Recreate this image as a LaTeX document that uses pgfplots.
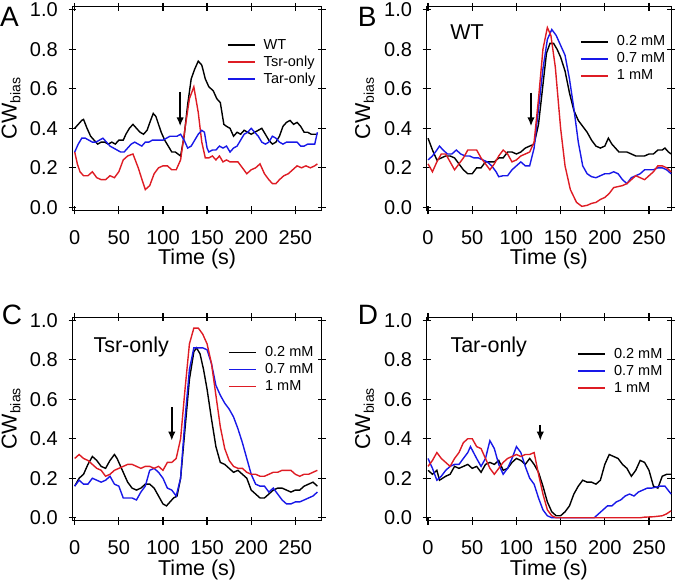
\documentclass[border=0pt]{standalone}
\usepackage{pgfplots}
\pgfplotsset{compat=1.18}
\usepackage{fontspec}
\setmainfont{Liberation Sans}
\usetikzlibrary{arrows.meta}
\definecolor{cred}{RGB}{222,28,36}
\definecolor{cblue}{RGB}{24,24,232}
\tikzset{
  lettr/.style={anchor=base west, inner sep=0pt, font=\fontsize{28}{28}\selectfont},
  inlab/.style={anchor=base west, inner sep=0pt, font=\fontsize{21.5}{22}\selectfont},
}
\pgfplotsset{
  panel/.style={
    scale only axis, height=203.5pt,
    ymin=-0.015, ymax=1.015,
    ytick={0,0.2,0.4,0.6,0.8,1.0},
    xtick={0,50,100,150,200,250},
    tick align=center, major tick length=8pt,
    every tick/.style={line width=1.2pt, black},
    axis line style={line width=1.1pt},
    /pgf/number format/assume math mode=true,
    yticklabel style={/pgf/number format/fixed, /pgf/number format/fixed zerofill, /pgf/number format/precision=1,
      anchor=east, inner sep=0pt, xshift=-10.5pt, font=\fontsize{20}{20}\selectfont},
    xticklabel style={anchor=base, inner sep=0pt, yshift=-30pt, font=\fontsize{20}{20}\selectfont},
    clip=false,
    xlabel={Time (s)},
    xlabel style={at={(axis description cs:0.5,0)}, anchor=base, yshift=-54.7pt, inner sep=0pt, font=\fontsize{21.5}{22}\selectfont},
    ylabel={CW\raisebox{-0.32ex}{\fontsize{14}{14}\selectfont bias}},
    ylabel style={anchor=base, inner sep=0pt, font=\fontsize{21.5}{22}\selectfont},
    legend cell align=left,
    legend image code/.code={\draw[#1, line width=1.6pt] (0pt,0pt) -- (27pt,0pt);},
    legend style={draw=none, fill=none, inner sep=0pt, column sep=6pt, row sep=0pt,
      font=\fontsize{14.5}{17}\selectfont,
      nodes={inner sep=2.25pt, text height=10.5pt, text depth=2pt}},
  },
  blk/.style={black, line width=1.4pt},
  rd/.style={cred, line width=1.4pt},
  bl/.style={cblue, line width=1.4pt},
  arr/.style={black, line width=1.8pt, -{Latex[length=9pt,width=7.5pt]}, forget plot},
}
\begin{document}
\begin{tikzpicture}
\path[use as bounding box] (0pt,0pt) rectangle (677pt,584pt);
% ---------------- A ----------------
\begin{axis}[panel, at={(72.5pt,373.7pt)}, anchor=south west, width=249.3pt,
  xmin=-2.5, xmax=280,
  ylabel style={at={(axis description cs:-0.224,0.5)}},
  legend style={at={(axis description cs:0.6185,0.855)}, anchor=north west}]
\addplot[blk] coordinates {(0,0.40)(4,0.42)(8,0.44)(10,0.445)(14,0.40)(18,0.36)(22,0.34)(26,0.32)(30,0.33)(34,0.33)(38,0.32)(42,0.33)(46,0.32)(50,0.34)(55,0.34)(58,0.37)(62,0.40)(66,0.42)(70,0.40)(74,0.38)(78,0.37)(82,0.39)(86,0.44)(89,0.475)(92,0.46)(95,0.42)(98,0.38)(102,0.34)(106,0.31)(110,0.28)(114,0.28)(117,0.27)(120,0.26)(124,0.36)(128,0.52)(132,0.65)(136,0.70)(140,0.74)(144,0.72)(148,0.65)(152,0.61)(157,0.59)(161,0.55)(165,0.53)(169,0.42)(172,0.41)(176,0.40)(180,0.36)(184,0.38)(188,0.37)(192,0.39)(196,0.38)(200,0.37)(204,0.38)(208,0.39)(212,0.40)(216,0.37)(220,0.34)(224,0.32)(228,0.33)(232,0.36)(236,0.41)(240,0.43)(244,0.44)(248,0.42)(252,0.43)(256,0.41)(260,0.38)(264,0.38)(268,0.37)(272,0.37)(275,0.37)};
\addlegendentry{WT}
\addplot[rd] coordinates {(0,0.28)(3,0.22)(6,0.18)(10,0.16)(15,0.16)(20,0.18)(25,0.15)(30,0.14)(35,0.14)(40,0.16)(45,0.15)(50,0.18)(55,0.24)(60,0.26)(66,0.27)(72,0.20)(77,0.13)(80,0.09)(85,0.11)(90,0.17)(95,0.20)(100,0.21)(105,0.21)(110,0.19)(115,0.19)(120,0.24)(125,0.40)(130,0.55)(135,0.61)(140,0.48)(144,0.33)(148,0.25)(152,0.25)(156,0.26)(160,0.24)(164,0.26)(168,0.23)(172,0.24)(176,0.23)(180,0.23)(185,0.23)(190,0.20)(195,0.17)(200,0.19)(205,0.20)(210,0.22)(215,0.17)(220,0.14)(224,0.12)(228,0.12)(232,0.14)(237,0.16)(242,0.17)(247,0.19)(252,0.21)(257,0.20)(262,0.21)(267,0.20)(272,0.21)(275,0.22)};
\addlegendentry{Tsr-only}
\addplot[bl] coordinates {(0,0.28)(4,0.32)(8,0.35)(12,0.35)(16,0.34)(20,0.33)(24,0.33)(28,0.34)(32,0.35)(36,0.33)(40,0.31)(44,0.30)(48,0.29)(52,0.28)(56,0.28)(60,0.30)(64,0.32)(68,0.33)(72,0.32)(76,0.31)(80,0.33)(84,0.33)(88,0.34)(92,0.34)(96,0.34)(100,0.34)(104,0.35)(108,0.36)(112,0.36)(116,0.36)(120,0.37)(124,0.34)(128,0.30)(132,0.31)(136,0.34)(140,0.37)(144,0.39)(147,0.38)(150,0.30)(152,0.28)(156,0.29)(160,0.29)(164,0.31)(168,0.30)(172,0.31)(176,0.28)(180,0.30)(184,0.31)(188,0.34)(192,0.37)(196,0.38)(200,0.40)(204,0.38)(208,0.36)(212,0.33)(216,0.32)(220,0.33)(224,0.36)(228,0.35)(232,0.33)(236,0.32)(240,0.33)(244,0.33)(248,0.33)(252,0.33)(256,0.31)(260,0.31)(264,0.32)(268,0.32)(272,0.32)(275,0.38)};
\addlegendentry{Tar-only}
\addplot[arr] coordinates {(119.5,0.585)(119.5,0.41)};
\node[lettr] at (axis cs:-84.7,0.915) {A};
\end{axis}
% ---------------- B ----------------
\begin{axis}[panel, at={(426.7pt,373.7pt)}, anchor=south west, width=244.4pt,
  xmin=-1.5, xmax=275,
  ylabel style={at={(axis description cs:-0.231,0.5)}},
  legend style={at={(axis description cs:0.627,0.871)}, anchor=north west}]
\addplot[blk] coordinates {(0,0.35)(5,0.29)(10,0.24)(15,0.25)(20,0.26)(25,0.26)(30,0.25)(35,0.22)(40,0.19)(45,0.17)(50,0.17)(55,0.20)(60,0.20)(65,0.23)(70,0.23)(75,0.23)(80,0.25)(85,0.25)(90,0.28)(95,0.28)(100,0.27)(105,0.28)(110,0.30)(115,0.31)(120,0.32)(125,0.42)(130,0.62)(134,0.78)(138,0.83)(142,0.83)(146,0.80)(150,0.76)(155,0.69)(160,0.58)(165,0.49)(170,0.44)(175,0.41)(180,0.38)(185,0.34)(190,0.31)(195,0.30)(200,0.31)(204,0.35)(208,0.32)(212,0.30)(216,0.28)(220,0.28)(225,0.28)(230,0.27)(235,0.26)(240,0.26)(245,0.26)(250,0.27)(255,0.27)(260,0.29)(265,0.29)(268,0.30)(272,0.28)(275,0.27)};
\addlegendentry{0.2 mM}
\addplot[bl] coordinates {(0,0.24)(5,0.26)(10,0.29)(13,0.31)(17,0.29)(22,0.27)(27,0.27)(32,0.29)(37,0.27)(42,0.26)(47,0.26)(52,0.25)(57,0.25)(62,0.24)(67,0.23)(72,0.21)(77,0.18)(80,0.155)(85,0.16)(90,0.16)(95,0.19)(100,0.21)(105,0.23)(110,0.21)(115,0.21)(120,0.30)(125,0.50)(130,0.70)(135,0.85)(140,0.90)(145,0.87)(150,0.82)(155,0.77)(160,0.65)(165,0.50)(170,0.33)(175,0.21)(180,0.17)(185,0.155)(190,0.15)(195,0.16)(200,0.17)(205,0.17)(210,0.18)(215,0.17)(220,0.14)(225,0.12)(230,0.15)(235,0.16)(240,0.17)(245,0.19)(250,0.19)(255,0.19)(260,0.20)(265,0.20)(270,0.19)(275,0.17)};
\addlegendentry{0.7 mM}
\addplot[rd] coordinates {(0,0.22)(5,0.18)(10,0.23)(15,0.27)(20,0.27)(25,0.23)(30,0.19)(35,0.22)(40,0.25)(45,0.29)(50,0.29)(55,0.29)(60,0.25)(65,0.22)(70,0.19)(75,0.22)(80,0.26)(85,0.29)(90,0.27)(95,0.23)(100,0.24)(105,0.26)(110,0.27)(115,0.28)(120,0.33)(125,0.55)(130,0.80)(135,0.91)(139,0.87)(144,0.71)(150,0.40)(155,0.21)(161,0.09)(168,0.025)(174,0.005)(180,0.01)(185,0.02)(190,0.025)(195,0.04)(200,0.05)(205,0.07)(210,0.10)(215,0.105)(220,0.11)(225,0.12)(230,0.14)(235,0.16)(240,0.15)(245,0.14)(250,0.16)(255,0.18)(260,0.21)(265,0.21)(270,0.20)(275,0.18)};
\addlegendentry{1 mM}
\addplot[arr] coordinates {(116.5,0.58)(116.5,0.41)};
\node[lettr] at (axis cs:-79.5,0.915) {B};
\node[inlab] at (axis cs:25,0.851) {WT};
\end{axis}
% ---------------- C ----------------
\begin{axis}[panel, at={(72.5pt,63.3pt)}, anchor=south west, width=249.3pt,
  xmin=-2.5, xmax=280,
  ylabel style={at={(axis description cs:-0.224,0.5)}},
  legend style={at={(axis description cs:0.624,0.869)}, anchor=north west}]
\addplot[blk] coordinates {(0,0.16)(5,0.20)(10,0.22)(15,0.27)(20,0.31)(25,0.29)(30,0.26)(35,0.25)(40,0.29)(45,0.32)(48,0.30)(52,0.26)(56,0.22)(60,0.18)(65,0.15)(70,0.14)(75,0.15)(80,0.17)(85,0.17)(90,0.15)(95,0.11)(100,0.07)(104,0.06)(108,0.08)(112,0.10)(116,0.11)(120,0.20)(125,0.45)(130,0.70)(135,0.84)(138,0.86)(142,0.83)(146,0.75)(150,0.65)(155,0.50)(160,0.36)(165,0.28)(170,0.27)(175,0.25)(180,0.23)(185,0.24)(190,0.22)(195,0.20)(200,0.14)(205,0.12)(210,0.10)(215,0.10)(220,0.12)(225,0.14)(230,0.15)(235,0.15)(240,0.14)(245,0.13)(250,0.14)(255,0.14)(260,0.16)(265,0.17)(270,0.18)(275,0.16)};
\addlegendentry{0.2 mM}
\addplot[bl] coordinates {(0,0.16)(5,0.19)(10,0.17)(15,0.17)(20,0.20)(25,0.19)(30,0.18)(35,0.19)(40,0.21)(45,0.17)(50,0.16)(55,0.10)(60,0.10)(65,0.10)(70,0.09)(75,0.13)(80,0.16)(85,0.24)(90,0.25)(95,0.23)(100,0.20)(105,0.15)(110,0.14)(115,0.11)(120,0.20)(125,0.50)(130,0.75)(135,0.86)(140,0.86)(145,0.86)(150,0.85)(155,0.78)(160,0.67)(165,0.62)(170,0.58)(175,0.55)(180,0.51)(185,0.45)(190,0.38)(195,0.30)(200,0.22)(205,0.17)(210,0.16)(215,0.16)(220,0.13)(225,0.15)(230,0.12)(235,0.09)(240,0.07)(245,0.07)(250,0.08)(255,0.08)(260,0.09)(265,0.10)(270,0.11)(275,0.13)};
\addlegendentry{0.7 mM}
\addplot[rd] coordinates {(0,0.30)(5,0.32)(10,0.30)(15,0.29)(20,0.27)(25,0.25)(30,0.24)(35,0.21)(40,0.22)(45,0.24)(50,0.25)(55,0.26)(60,0.27)(65,0.27)(70,0.26)(75,0.25)(80,0.26)(85,0.26)(90,0.25)(95,0.26)(100,0.24)(105,0.28)(110,0.28)(115,0.30)(120,0.40)(125,0.65)(130,0.88)(135,0.96)(140,0.96)(145,0.93)(150,0.88)(155,0.78)(160,0.62)(165,0.46)(170,0.35)(175,0.29)(180,0.26)(185,0.25)(190,0.25)(195,0.23)(200,0.22)(205,0.22)(210,0.21)(215,0.21)(220,0.22)(225,0.23)(230,0.23)(235,0.24)(240,0.24)(245,0.24)(250,0.22)(255,0.21)(260,0.22)(265,0.22)(270,0.23)(275,0.24)};
\addlegendentry{1 mM}
\addplot[arr] coordinates {(110,0.56)(110,0.39)};
\node[lettr] at (axis cs:-82.7,0.98) {C};
\node[inlab] at (axis cs:21.1,0.837) {Tsr-only};
\end{axis}
% ---------------- D ----------------
\begin{axis}[panel, at={(426.7pt,63.3pt)}, anchor=south west, width=244.4pt,
  xmin=-1.5, xmax=275,
  ylabel style={at={(axis description cs:-0.231,0.5)}},
  legend style={at={(axis description cs:0.615,0.861)}, anchor=north west}]
\addplot[blk] coordinates {(0,0.24)(5,0.22)(10,0.24)(13,0.19)(20,0.21)(25,0.22)(30,0.26)(35,0.25)(40,0.26)(45,0.27)(50,0.25)(55,0.26)(60,0.23)(65,0.27)(70,0.28)(75,0.27)(80,0.29)(85,0.24)(90,0.25)(95,0.28)(100,0.30)(105,0.29)(110,0.27)(115,0.30)(120,0.27)(125,0.23)(130,0.16)(135,0.08)(140,0.03)(145,0.01)(150,0.01)(155,0.03)(160,0.06)(165,0.12)(170,0.16)(175,0.19)(180,0.18)(185,0.18)(190,0.17)(195,0.19)(200,0.27)(205,0.32)(210,0.31)(215,0.30)(220,0.27)(225,0.25)(230,0.21)(235,0.24)(240,0.29)(245,0.28)(250,0.24)(255,0.16)(260,0.15)(265,0.21)(270,0.22)(275,0.22)};
\addlegendentry{0.2 mM}
\addplot[bl] coordinates {(0,0.30)(5,0.25)(10,0.19)(15,0.21)(20,0.24)(25,0.26)(30,0.27)(35,0.27)(40,0.30)(45,0.33)(48,0.36)(55,0.30)(60,0.26)(65,0.30)(70,0.39)(75,0.35)(80,0.27)(85,0.22)(90,0.25)(95,0.30)(100,0.36)(105,0.33)(110,0.26)(115,0.20)(120,0.17)(125,0.10)(130,0.04)(135,0.01)(140,0.0)(150,0.0)(160,0.0)(170,0.0)(180,0.0)(188,0.0)(193,0.02)(198,0.04)(203,0.06)(208,0.06)(213,0.08)(218,0.09)(223,0.11)(228,0.12)(233,0.11)(238,0.13)(243,0.14)(248,0.15)(253,0.15)(258,0.155)(263,0.16)(268,0.16)(275,0.12)};
\addlegendentry{0.7 mM}
\addplot[rd] coordinates {(0,0.26)(5,0.29)(10,0.33)(15,0.30)(20,0.28)(25,0.26)(30,0.30)(35,0.33)(40,0.38)(45,0.40)(50,0.40)(55,0.36)(60,0.35)(65,0.30)(70,0.25)(75,0.22)(80,0.25)(85,0.28)(90,0.30)(95,0.31)(100,0.32)(105,0.31)(110,0.32)(115,0.32)(120,0.33)(125,0.22)(130,0.12)(135,0.04)(140,0.01)(145,0.0)(160,0.0)(180,0.0)(200,0.0)(220,0.0)(240,0.0)(245,0.003)(255,0.005)(265,0.01)(270,0.02)(275,0.035)};
\addlegendentry{1 mM}
\addplot[arr] coordinates {(127,0.47)(127,0.39)};
\node[lettr] at (axis cs:-79.5,0.98) {D};
\node[inlab] at (axis cs:25.2,0.837) {Tar-only};
\end{axis}
\end{tikzpicture}
\end{document}
